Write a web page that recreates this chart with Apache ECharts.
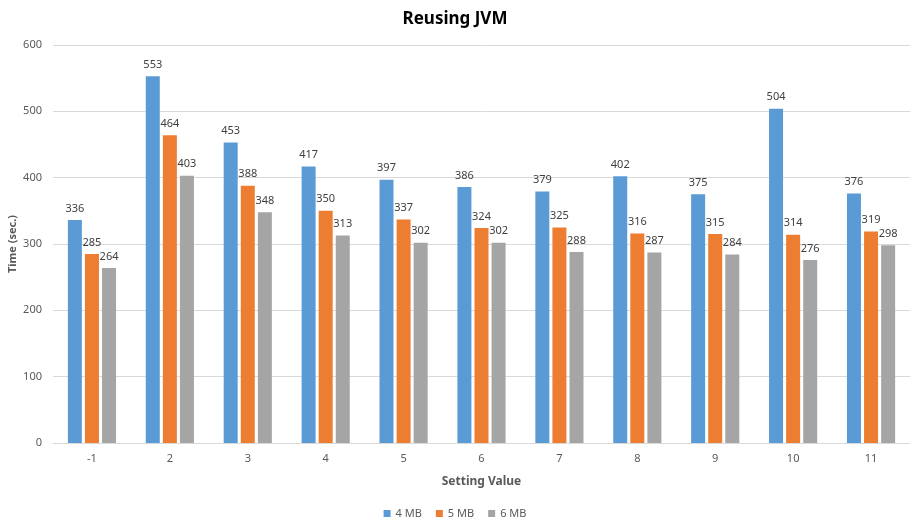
<!DOCTYPE html>
<html>
<head>
  <meta charset="utf-8">
  <title>Reusing JVM</title>
  <script src="https://cdn.jsdelivr.net/npm/echarts@6/dist/echarts.min.js"></script>
  <style>
    html, body { margin: 0; padding: 0; background: #fff; }
    #main { width: 910px; height: 520px; }
  </style>
</head>
<body>
  <div id="main"></div>
  <script>
    var categories = ['-1', '2', '3', '4', '5', '6', '7', '8', '9', '10', '11'];
    var mb4 = [336, 553, 453, 417, 397, 386, 379, 402, 375, 504, 376];
    var mb5 = [285, 464, 388, 350, 337, 324, 325, 316, 315, 314, 319];
    var mb6 = [264, 403, 348, 313, 302, 302, 288, 287, 284, 276, 298];

    var font = '"Noto Sans", "DejaVu Sans", sans-serif';
    var lbl = { show: true, position: 'top', distance: 6, color: '#404040', fontSize: 11, fontFamily: font };

    function mk(name, data, color) {
      return {
        name: name, type: 'bar', data: data,
        barWidth: 14, barGap: '22%',
        itemStyle: { color: color },
        label: lbl
      };
    }

    var chart = echarts.init(document.getElementById('main'));
    chart.setOption({
      animation: false,
      textStyle: { fontFamily: font },
      title: {
        text: 'Reusing JVM', left: 'center', top: 6,
        textStyle: { fontSize: 17, fontWeight: 'bold', color: '#000', fontFamily: font }
      },
      legend: {
        top: 503, left: 'center', itemWidth: 7, itemHeight: 7, itemGap: 14,
        icon: 'rect',
        textStyle: { color: '#595959', fontSize: 11 }
      },
      grid: { left: 53, right: 0, top: 45, bottom: 77, outerBoundsMode: 'none', containLabel: false },
      xAxis: {
        type: 'category', data: categories,
        name: 'Setting Value', nameLocation: 'middle', nameGap: 33, nameMoveOverlap: false,
        nameTextStyle: { fontWeight: 'bold', color: '#595959', fontSize: 12 },
        axisLine: { lineStyle: { color: '#d9d9d9' } },
        axisTick: { show: false },
        axisLabel: { color: '#595959', fontSize: 11, margin: 10 }
      },
      yAxis: {
        type: 'value', min: 0, max: 600, interval: 100,
        name: 'Time (sec.)', nameLocation: 'middle', nameGap: 35, nameMoveOverlap: false,
        nameTextStyle: { fontWeight: 'bold', color: '#595959', fontSize: 11 },
        axisLabel: { color: '#595959', fontSize: 11, margin: 11 },
        splitLine: { lineStyle: { color: '#d9d9d9' } }
      },
      series: [
        mk('4 MB', mb4, '#5B9BD5'),
        mk('5 MB', mb5, '#ED7D31'),
        mk('6 MB', mb6, '#A5A5A5')
      ]
    });
  </script>
</body>
</html>
